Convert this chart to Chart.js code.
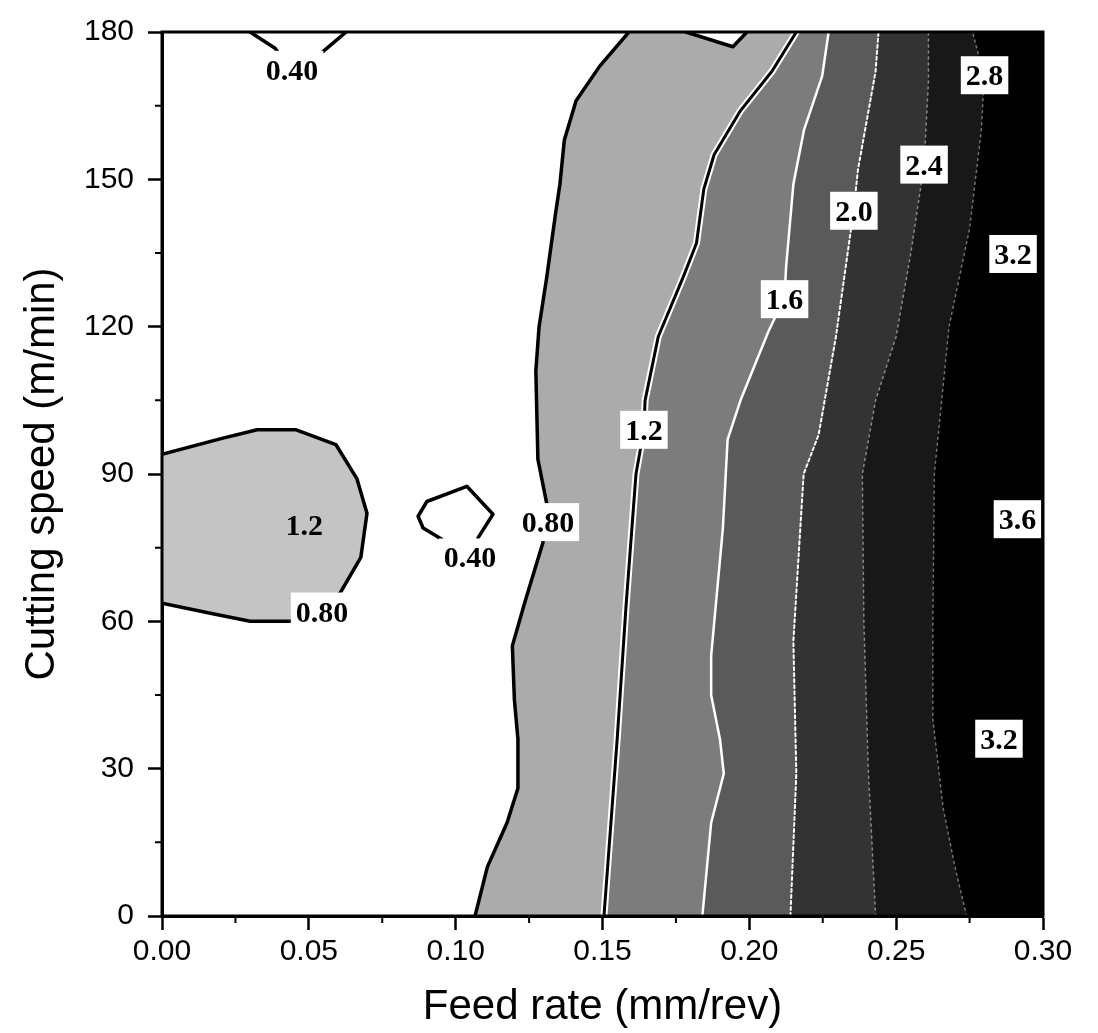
<!DOCTYPE html>
<html>
<head>
<meta charset="utf-8">
<title>Contour - cutting speed vs feed rate</title>
<script src="https://cdn.jsdelivr.net/npm/chart.js@4.4.1/dist/chart.umd.min.js"></script>
<style>
  html, body { margin: 0; padding: 0; background: #fff; }
</style>
</head>
<body>
<canvas id="contour" width="1098" height="1033"></canvas>
<script>
// Contour lines: feed rate (mm/rev) vs cutting speed (m/min)
const c080Feed  = [0.1066, 0.1108, 0.1175, 0.1212, 0.1212, 0.1200, 0.1193, 0.1236, 0.1297, 0.1310, 0.1280, 0.1273, 0.1284, 0.1310, 0.1340, 0.1355, 0.1370, 0.1410, 0.1490, 0.1590];
const c080Speed = [0, 10, 19, 26, 36, 44, 55, 64, 76, 84, 93, 111, 120, 130, 143, 149, 158, 166, 173, 180];

const c120Feed  = [0.1505, 0.1550, 0.1580, 0.1614, 0.1641, 0.1645, 0.1690, 0.1774, 0.1820, 0.1845, 0.1880, 0.1970, 0.2077, 0.2160];
const c120Speed = [0, 36, 63, 90, 99, 105, 118, 130, 137, 148, 155, 164, 172, 180];

const c160Feed  = [0.1840, 0.1870, 0.1913, 0.1900, 0.1870, 0.1870, 0.1910, 0.1926, 0.1970, 0.2065, 0.2120, 0.2125, 0.2150, 0.2186, 0.2248, 0.2270];
const c160Speed = [0, 19, 29, 36, 45, 53, 79, 97, 105, 119, 126, 132, 149, 160, 171, 180];

const c200Feed  = [0.2140, 0.2160, 0.2150, 0.2185, 0.2236, 0.2295, 0.2356, 0.2370, 0.2430, 0.2440];
const c200Speed = [0, 29, 56, 90, 98, 118, 144, 152, 172, 180];

const c240Feed  = [0.2430, 0.2405, 0.2390, 0.2385, 0.2430, 0.2500, 0.2550, 0.2595, 0.2610, 0.2610];
const c240Speed = [0, 30, 60, 90, 105, 118, 135, 153, 170, 180];

const c280Feed  = [0.2740, 0.2700, 0.2660, 0.2625, 0.2625, 0.2630, 0.2680, 0.2750, 0.2790, 0.2800, 0.2760];
const c280Speed = [0, 10, 22, 40, 60, 90, 120, 140, 160, 171, 180];

// 0.80 island on the left (1.2 inside)
const islandFeed  = [0, 0.0201, 0.0324, 0.0457, 0.0592, 0.0664, 0.0698, 0.0677, 0.0606, 0.0446, 0.0300, 0.0177, 0];
const islandSpeed = [94, 97.2, 99, 99, 96, 89, 82, 73, 65.7, 60, 60, 61.5, 63.7];

// small 0.80 notch at the top edge
const notchFeed  = [0.1784, 0.1944, 0.1992];
const notchSpeed = [180, 177, 180];

// 0.40 lines
const loop040Feed  = [0.0953, 0.0889, 0.0872, 0.0902, 0.1038, 0.1127, 0.1076];
const loop040Speed = [76.7, 79, 81.4, 84.4, 87.5, 81.8, 77];
const top040Feed  = [0.0300, 0.0385, 0.0443, 0.0548, 0.0627];
const top040Speed = [180, 176.7, 172, 176, 180];

// contour labels
const labelText  = ['0.40', '0.40', '0.80', '0.80', '1.2', '1.2', '1.6', '2.0', '2.4', '2.8', '3.2', '3.6', '3.2'];
const labelFeed  = [0.0443, 0.1049, 0.1314, 0.0545, 0.0484, 0.1641, 0.2120, 0.2356, 0.2595, 0.2801, 0.2898, 0.2913, 0.2850];
const labelSpeed = [172.3, 73, 80.2, 62, 79.7, 99, 125.6, 143.6, 153, 171.2, 134.8, 80.8, 36.1];

// axis ticks
const minorFeedTicks  = [0.025, 0.075, 0.125, 0.175, 0.225, 0.275];
const minorSpeedTicks = [15, 45, 75, 105, 135, 165];

function pts(feed, speed) {
  return feed.map((f, i) => ({ x: f, y: speed[i] }));
}
// area to the right of a contour, closed along the right edge
function band(feed, speed) {
  return pts(feed, speed).concat([{ x: 0.30, y: 180 }, { x: 0.30, y: 0 }]);
}

function area(data, color) {
  return { data: data, showLine: true, fill: 'shape', backgroundColor: color, borderWidth: 0, pointRadius: 0, tension: 0 };
}
function line(data, color, width, dash) {
  return { data: data, showLine: true, fill: false, borderColor: color, borderWidth: width, borderDash: dash || [], pointRadius: 0, tension: 0, borderJoinStyle: 'round', borderCapStyle: 'round' };
}

// bottom layer first
const layers = [
  area(band(c080Feed, c080Speed), '#ababab'),
  area(band(c120Feed, c120Speed), '#7c7c7c'),
  area(band(c160Feed, c160Speed), '#5a5a5a'),
  area(band(c200Feed, c200Speed), '#333333'),
  area(band(c240Feed, c240Speed), '#181818'),
  area(band(c280Feed, c280Speed), '#000000'),
  area(pts(islandFeed, islandSpeed), '#c4c4c4'),
  area(pts(notchFeed, notchSpeed), '#ffffff'),
  line(pts(c280Feed, c280Speed), '#707070', 1.5, [2, 4]),
  line(pts(c240Feed, c240Speed), '#8a8a8a', 1.5, [2, 4]),
  line(pts(c200Feed, c200Speed), '#ffffff', 2, [3, 3]),
  line(pts(c160Feed, c160Speed), '#ffffff', 2.5),
  line(pts(c120Feed, c120Speed), '#ffffff', 7),
  line(pts(c120Feed, c120Speed), '#000000', 3),
  line(pts(c080Feed, c080Speed), '#000000', 3.5),
  line(pts(islandFeed, islandSpeed), '#000000', 3.5),
  line(pts(notchFeed, notchSpeed), '#000000', 3.5),
  line(pts(loop040Feed, loop040Speed), '#000000', 3.5),
  line(pts(top040Feed, top040Speed), '#000000', 3.5)
];
layers.forEach((d, i) => { d.order = layers.length - i; });

const labelPlugin = {
  id: 'contourLabels',
  afterDatasetsDraw(chart) {
    const { ctx, scales: { x, y } } = chart;
    const noBox = new Set([4]);
    ctx.save();
    ctx.font = 'bold 30px "Liberation Serif", "Times New Roman", serif';
    ctx.textAlign = 'center';
    ctx.textBaseline = 'alphabetic';
    labelText.forEach((t, i) => {
      const px = x.getPixelForValue(labelFeed[i]);
      const py = y.getPixelForValue(labelSpeed[i]);
      const w = ctx.measureText(t).width;
      if (!noBox.has(i)) {
        ctx.fillStyle = '#ffffff';
        ctx.fillRect(px - w / 2 - 5, py - 19, w + 10, 38);
      }
      ctx.fillStyle = '#000000';
      ctx.fillText(t, px, py + 10);
    });
    ctx.restore();
  }
};

const framePlugin = {
  id: 'frame',
  afterDraw(chart) {
    const { ctx, chartArea: a, scales: { x, y } } = chart;
    ctx.save();
    ctx.strokeStyle = '#000';
    ctx.lineWidth = 3;
    ctx.strokeRect(a.left, a.top, a.right - a.left, a.bottom - a.top);
    ctx.lineWidth = 2;
    ctx.beginPath();
    minorSpeedTicks.forEach(v => {
      const py = y.getPixelForValue(v);
      ctx.moveTo(a.left - 7, py);
      ctx.lineTo(a.left, py);
    });
    minorFeedTicks.forEach(v => {
      const px = x.getPixelForValue(v);
      ctx.moveTo(px, a.bottom);
      ctx.lineTo(px, a.bottom + 7);
    });
    ctx.stroke();
    ctx.restore();
  }
};

const axisFont = { family: '"Liberation Sans", Arial, sans-serif', size: 30 };
const titleFont = { family: '"Liberation Sans", Arial, sans-serif', size: 42, lineHeight: 1 };

new Chart(document.getElementById('contour'), {
  type: 'scatter',
  data: { datasets: layers },
  options: {
    responsive: false,
    devicePixelRatio: 1,
    animation: false,
    events: [],
    layout: { padding: { top: 29, right: 55, bottom: 0, left: 0 } },
    plugins: {
      legend: { display: false },
      tooltip: { enabled: false }
    },
    scales: {
      x: {
        type: 'linear',
        min: 0,
        max: 0.30,
        afterFit(scale) { scale.height = 117; },
        ticks: {
          stepSize: 0.05,
          color: '#000',
          font: axisFont,
          padding: 4,
          callback: v => v.toFixed(2)
        },
        grid: { drawOnChartArea: false, drawTicks: true, tickLength: 14, tickWidth: 2.5, tickColor: '#000' },
        border: { display: true, color: '#000', width: 3 },
        title: { display: true, text: 'Feed rate (mm/rev)', color: '#000', font: titleFont, padding: { top: 0, bottom: 5 } }
      },
      y: {
        type: 'linear',
        min: 0,
        max: 180,
        afterFit(scale) { scale.width = 162; },
        ticks: {
          stepSize: 30,
          color: '#000',
          font: axisFont,
          padding: 14
        },
        grid: { drawOnChartArea: false, drawTicks: true, tickLength: 14, tickWidth: 2.5, tickColor: '#000' },
        border: { display: true, color: '#000', width: 3 },
        title: { display: true, text: 'Cutting speed (m/min)', color: '#000', font: titleFont, padding: { top: 21, bottom: 0 } }
      }
    }
  },
  plugins: [labelPlugin, framePlugin]
});
</script>
</body>
</html>
